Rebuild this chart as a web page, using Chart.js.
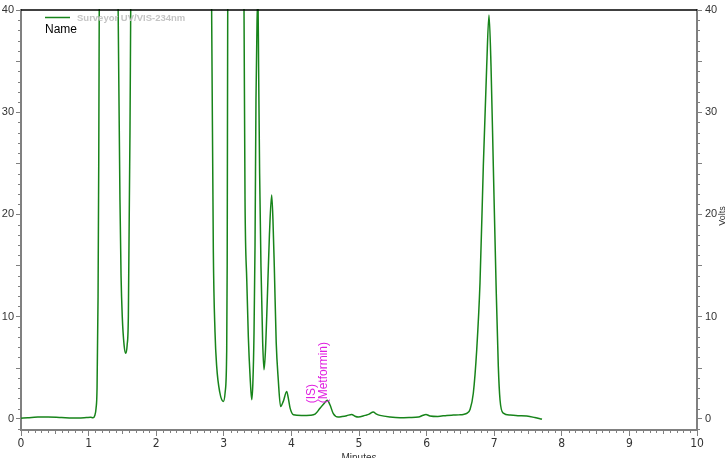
<!DOCTYPE html>
<html>
<head>
<meta charset="utf-8">
<script src="https://cdn.jsdelivr.net/npm/chart.js@4/dist/chart.umd.min.js"></script>
<style>
  html,body{margin:0;padding:0;background:#fff;}
  #wrap{width:728px;height:458px;}
</style>
</head>
<body>
<div id="wrap"><canvas id="chart" width="728" height="458"></canvas></div>
<script>
// Chromatogram trace (minutes / volts)
const seriesName = 'Surveyor UV/VIS-234nm';
const legendNote = 'Name';
const timeMin = [
  0.00, 0.10, 0.25, 0.40, 0.60, 0.85, 0.97, 1.03, 1.065, 1.09, 1.11, 1.125, 1.14, 1.15, 1.16, 1.20, 1.30, 1.40,
  1.437, 1.464, 1.48, 1.498, 1.525, 1.549, 1.570, 1.588, 1.612, 1.623, 1.66, 2.00, 2.60, 2.78,
  2.820, 2.845, 2.870, 2.895, 2.94, 2.993, 3.02, 3.043, 3.05, 3.058, 3.09, 3.20, 3.28,
  3.299, 3.314, 3.340, 3.363, 3.390, 3.413, 3.430, 3.447, 3.462, 3.476, 3.492, 3.506, 3.515, 3.530, 3.550,
  3.575, 3.595, 3.615, 3.643, 3.675, 3.708, 3.727, 3.747, 3.775, 3.806, 3.84, 3.88, 3.93, 3.955, 3.98,
  4.03, 4.15, 4.28, 4.35, 4.42, 4.49, 4.53, 4.57, 4.62, 4.69, 4.75, 4.818, 4.892, 4.94, 4.99,
  5.089, 5.15, 5.21, 5.26, 5.311, 5.459, 5.607, 5.75, 5.88, 5.95, 5.99, 6.05, 6.166, 6.30, 6.395,
  6.48, 6.543, 6.60, 6.642, 6.691, 6.741, 6.790, 6.839, 6.889, 6.923, 6.953, 6.987, 7.027, 7.061,
  7.086, 7.135, 7.234, 7.35, 7.481, 7.60, 7.678, 7.707
];
const volts = [
  0.05, 0.10, 0.16, 0.18, 0.12, 0.07, 0.12, 0.15, 0.10, 0.30, 1.0, 3.0, 12, 25, 45, 80, 95, 65,
  40, 21.4, 14, 10, 7.2, 6.4, 7.2, 10, 28, 40, 75, 200, 150, 65,
  40, 16.5, 8.5, 5.1, 2.6, 1.7, 2.6, 6.7, 15, 40, 75, 110, 60,
  40, 21.4, 13.5, 8.0, 4.0, 1.86, 3.5, 8.4, 17, 31.2, 39, 41, 34.4, 24, 14.9,
  7.5, 4.8, 6.5, 11.6, 18, 21.9, 19.5, 14.9, 7.5, 3.8, 1.2, 1.7, 2.67, 2.0, 1.07,
  0.4, 0.33, 0.35, 0.45, 1.0, 1.55, 1.8, 1.37, 0.5, 0.17, 0.22, 0.3, 0.42, 0.25, 0.17,
  0.33, 0.45, 0.65, 0.45, 0.33, 0.17, 0.10, 0.12, 0.17, 0.35, 0.42, 0.28, 0.23, 0.33, 0.36,
  0.38, 0.42, 0.55, 0.9, 2.5, 6.7, 13.3, 24.7, 34.5, 39.5, 34.5, 24.7, 13.3, 5.1,
  1.86, 0.55, 0.36, 0.30, 0.26, 0.12, 0.0, -0.05
];
const xTicks = [0,1,2,3,4,5,6,7,8,9,10];
const yTicks = [0,10,20,30,40];
// peak annotations
const peakTimes = [4.53];
const peakVolts = [1.8];
const peakNames = [['(IS)', '(Metformin)']];

const axisGray = '#808080';
const traceColor = '#17841a';

const overlay = {
  id: 'overlay',
  afterDraw(chart){
    const ctx = chart.ctx;
    const x = chart.scales.x, yl = chart.scales.y;
    const area = chart.chartArea;
    ctx.save();
    // top frame line
    ctx.strokeStyle = '#000'; ctx.lineWidth = 1.5;
    ctx.beginPath(); ctx.moveTo(area.left, area.top); ctx.lineTo(area.right, area.top); ctx.stroke();

    // minor ticks
    ctx.strokeStyle = axisGray; ctx.lineWidth = 1;
    ctx.beginPath();
    for(let v = -1; v <= 40; v++){
      if(v % 10 === 0) continue;
      const py = Math.round(yl.getPixelForValue(v)) + 0.5;
      const len = v % 5 === 0 ? 5 : 3;
      ctx.moveTo(area.left - len, py); ctx.lineTo(area.left, py);
      ctx.moveTo(area.right, py); ctx.lineTo(area.right + len, py);
    }
    for(let i = 1; i < 100; i++){
      if(i % 10 === 0) continue;
      const px = Math.round(x.getPixelForValue(i / 10)) + 0.5;
      const len = i % 5 === 0 ? 4 : 3;
      ctx.moveTo(px, area.bottom); ctx.lineTo(px, area.bottom + len);
    }
    ctx.stroke();

    // legend
    ctx.strokeStyle = traceColor; ctx.lineWidth = 1.5;
    ctx.beginPath(); ctx.moveTo(45, 17.5); ctx.lineTo(70, 17.5); ctx.stroke();
    ctx.fillStyle = '#c4c4c4';
    ctx.font = 'bold 9.5px "Liberation Sans", Arial, sans-serif';
    ctx.textAlign = 'left'; ctx.textBaseline = 'middle';
    ctx.fillText(seriesName, 77, 18);
    ctx.fillStyle = '#000';
    ctx.font = '12px "Liberation Sans", Arial, sans-serif';
    ctx.fillText(legendNote, 45, 30);

    // axis titles
    ctx.fillStyle = '#333';
    ctx.font = '10px "Liberation Sans", Arial, sans-serif';
    ctx.textAlign = 'center'; ctx.textBaseline = 'top';
    ctx.fillText('Minutes', (area.left + area.right) / 2, 453);
    ctx.save();
    ctx.translate(722.5, (area.top + area.bottom) / 2 - 4);
    ctx.rotate(-Math.PI / 2);
    ctx.font = '9px "Liberation Sans", Arial, sans-serif';
    ctx.textBaseline = 'middle';
    ctx.fillText('Volts', 0, 0);
    ctx.restore();

    // peak labels
    ctx.fillStyle = '#e020e0';
    ctx.font = '12px "Liberation Sans", Arial, sans-serif';
    peakTimes.forEach((t, i) => {
      const px = x.getPixelForValue(t), py = yl.getPixelForValue(peakVolts[i]);
      ctx.save();
      ctx.translate(px, py + 3);
      ctx.rotate(-Math.PI / 2);
      ctx.textAlign = 'left'; ctx.textBaseline = 'alphabetic';
      const lines = peakNames[i];
      for(let k = lines.length - 1, off = 0; k >= 0; k--, off += 12){
        ctx.fillText(lines[k], 0, -off);
      }
      ctx.restore();
    });
    ctx.restore();
  }
};

const yScale = (pos, width, pad) => ({
  type: 'linear',
  position: pos,
  min: -1.1,
  max: 40,
  afterBuildTicks: s => { s.ticks = yTicks.map(v => ({value: v})); },
  afterFit: s => { s.width = width; s.paddingTop = 0; s.paddingBottom = 0; },
  grid: {display: true, drawOnChartArea: false, tickLength: 5, color: axisGray},
  border: {display: true, color: axisGray, width: 2},
  ticks: {color: '#333', padding: pad, font: {family: '"Liberation Sans", Arial, sans-serif', size: 11}}
});

new Chart(document.getElementById('chart'), {
  type: 'line',
  data: {
    datasets: [{
      label: seriesName,
      data: timeMin.map((t, i) => ({x: t, y: volts[i]})),
      borderColor: traceColor,
      borderWidth: 1.5,
      pointRadius: 0,
      cubicInterpolationMode: 'monotone',
      fill: false,
      clip: 1,
      yAxisID: 'y'
    }]
  },
  options: {
    responsive: false,
    animation: false,
    devicePixelRatio: 1,
    layout: {padding: {top: 10, left: 0, right: 0, bottom: 0}},
    plugins: {legend: {display: false}, tooltip: {enabled: false}},
    scales: {
      x: {
        type: 'linear',
        min: 0, max: 10,
        afterBuildTicks: s => { s.ticks = xTicks.map(v => ({value: v})); },
        afterFit: s => { s.height = 28; },
        grid: {display: true, drawOnChartArea: false, tickLength: 6, color: axisGray},
        border: {display: true, color: axisGray, width: 2},
        ticks: {color: '#333', padding: 1, maxRotation: 0,
          font: {family: '"Liberation Sans Narrow", "DejaVu Sans Condensed", Arial, sans-serif', size: 12}}
      },
      y: yScale('left', 21, 2),
      y2: yScale('right', 31, 3)
    }
  },
  plugins: [overlay]
});
</script>
</body>
</html>
